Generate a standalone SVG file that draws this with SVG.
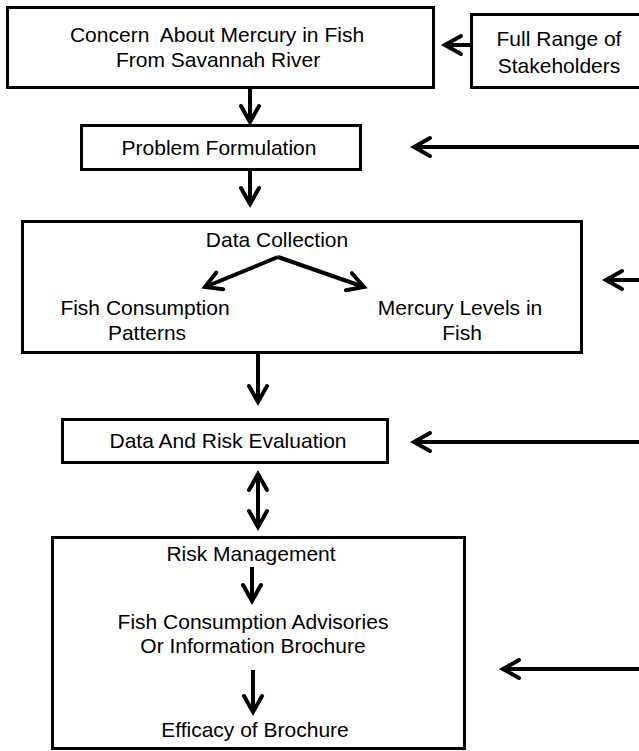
<svg xmlns="http://www.w3.org/2000/svg" width="639" height="751" viewBox="0 0 639 751">
  <style>
    .box { fill: #fff; stroke: #000; stroke-width: 3; }
    .lbl { font-family: "Liberation Sans", Arial, sans-serif; font-size: 21px; fill: #000; text-anchor: middle; }
    .pre { white-space: pre; }
    .link { fill: none; stroke: #000; stroke-width: 4; }
  </style>
  <defs>
    <marker id="chev" markerUnits="userSpaceOnUse" markerWidth="40" markerHeight="40"
            viewBox="-20 -20 40 40" refX="0" refY="0" orient="auto-start-reverse" overflow="visible">
      <path d="M-16,-9 L0,0 L-16,9" fill="none" stroke="#000" stroke-width="4"
            stroke-linecap="round" stroke-linejoin="miter"/>
    </marker>
  </defs>

  <rect width="639" height="751" fill="#fff"/>

  <g id="concern">
    <rect class="box" x="7.5" y="7.5" width="426" height="80"/>
    <text class="lbl pre" x="217" y="42">Concern  About Mercury in Fish</text>
    <text class="lbl" x="218" y="67">From Savannah River</text>
  </g>

  <g id="stakeholders">
    <rect class="box" x="471.5" y="14.5" width="180" height="73"/>
    <text class="lbl" x="559" y="46">Full Range of</text>
    <text class="lbl" x="559" y="73">Stakeholders</text>
  </g>

  <g id="problem-formulation">
    <rect class="box" x="81.5" y="125.5" width="279" height="44"/>
    <text class="lbl" x="219" y="155">Problem Formulation</text>
  </g>

  <g id="data-collection">
    <rect class="box" x="22.5" y="221.5" width="559" height="131"/>
    <text class="lbl" x="277" y="247">Data Collection</text>
    <text class="lbl" x="145" y="315">Fish Consumption</text>
    <text class="lbl" x="147" y="340">Patterns</text>
    <text class="lbl" x="460" y="315">Mercury Levels in</text>
    <text class="lbl" x="462" y="340">Fish</text>
  </g>

  <g id="risk-evaluation">
    <rect class="box" x="62.5" y="419.5" width="325" height="43"/>
    <text class="lbl" x="228" y="448">Data And Risk Evaluation</text>
  </g>

  <g id="risk-management">
    <rect class="box" x="52.5" y="537.5" width="412" height="211"/>
    <text class="lbl" x="251" y="561">Risk Management</text>
    <text class="lbl" x="253" y="629">Fish Consumption Advisories</text>
    <text class="lbl" x="253" y="653">Or Information Brochure</text>
    <text class="lbl" x="255" y="737">Efficacy of Brochure</text>
  </g>

  <g id="connectors">
    <!-- stakeholders feed the concern box -->
    <line class="link" x1="471" y1="45" x2="445" y2="45" marker-end="url(#chev)"/>
    <!-- main vertical flow -->
    <line class="link" x1="250" y1="88" x2="250" y2="122" marker-end="url(#chev)"/>
    <line class="link" x1="250" y1="170" x2="250" y2="204" marker-end="url(#chev)"/>
    <line class="link" x1="258" y1="353" x2="258" y2="402" marker-end="url(#chev)"/>
    <line class="link" x1="258" y1="474" x2="258" y2="527" marker-start="url(#chev)" marker-end="url(#chev)"/>
    <!-- inside data collection -->
    <line class="link" x1="278" y1="257" x2="205" y2="287" marker-end="url(#chev)"/>
    <line class="link" x1="278" y1="257" x2="364" y2="287" marker-end="url(#chev)"/>
    <!-- inside risk management -->
    <line class="link" x1="252" y1="567" x2="252" y2="601" marker-end="url(#chev)"/>
    <line class="link" x1="253" y1="670" x2="253" y2="712" marker-end="url(#chev)"/>
    <!-- stakeholder input arrows from the right -->
    <line class="link" x1="645" y1="147" x2="414" y2="147" marker-end="url(#chev)"/>
    <line class="link" x1="645" y1="280" x2="606" y2="280" marker-end="url(#chev)"/>
    <line class="link" x1="645" y1="442" x2="414" y2="442" marker-end="url(#chev)"/>
    <line class="link" x1="645" y1="669" x2="503" y2="669" marker-end="url(#chev)"/>
  </g>
</svg>
